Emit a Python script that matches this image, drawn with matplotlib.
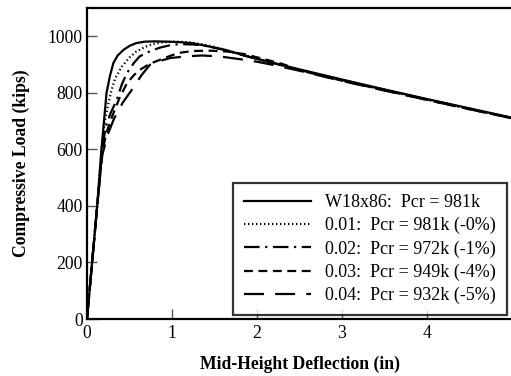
import matplotlib
matplotlib.use("Agg")
import matplotlib.pyplot as plt

plt.rcParams['font.family'] = ['Liberation Serif', 'DejaVu Serif']

x_w = [0, 0.06, 0.12, 0.17, 0.20, 0.23, 0.27, 0.31, 0.36, 0.43, 0.50, 0.58, 0.68, 0.80,
       0.95, 1.10, 1.25, 1.45, 1.65, 1.85, 2.0, 2.5, 3.0, 3.5, 4.0, 4.5, 5.0]
y_w = [0, 200, 400, 600, 700, 800, 860, 905, 932, 952, 966, 976, 981, 982,
       981, 979, 975, 963, 950, 932, 920, 883, 847, 812, 778, 745, 712]

x_01 = [0, 0.06, 0.12, 0.17, 0.21, 0.25, 0.28, 0.33, 0.41, 0.50, 0.58, 0.68, 0.78, 0.90,
        1.05, 1.20, 1.35, 1.50, 1.70, 2.0, 2.5, 3.0, 3.5, 4.0, 4.5, 5.0]
y_01 = [0, 200, 400, 600, 700, 760, 800, 850, 893, 925, 946, 962, 973, 979,
        981, 979, 972, 962, 946, 920, 882, 846, 811, 777, 744, 711]

x_02 = [0, 0.06, 0.12, 0.18, 0.22, 0.28, 0.35, 0.41, 0.47, 0.55, 0.62, 0.74, 0.86, 1.0,
        1.1, 1.25, 1.4, 1.6, 1.8, 2.0, 2.5, 3.0, 3.5, 4.0, 4.5, 5.0]
y_02 = [0, 200, 400, 600, 680, 730, 775, 830, 870, 905, 929, 947, 960, 970,
        972, 971, 966, 953, 936, 920, 881, 845, 810, 776, 743, 711]

x_03 = [0, 0.06, 0.12, 0.18, 0.23, 0.30, 0.38, 0.47, 0.55, 0.62, 0.74, 0.86, 1.0, 1.1,
        1.25, 1.45, 1.65, 1.85, 2.1, 2.3, 2.5, 3.0, 3.5, 4.0, 4.5, 5.0]
y_03 = [0, 200, 400, 590, 660, 720, 780, 834, 862, 881, 903, 917, 933, 942,
        948, 949, 946, 937, 918, 902, 880, 843, 809, 775, 742, 710]

x_04 = [0, 0.06, 0.12, 0.18, 0.24, 0.32, 0.42, 0.54, 0.64, 0.74, 0.86, 0.98, 1.17, 1.35,
        1.55, 1.8, 2.0, 2.2, 2.5, 3.0, 3.5, 4.0, 4.5, 5.0]
y_04 = [0, 200, 400, 580, 650, 710, 765, 816, 862, 899, 913, 923, 929, 932,
        929, 919, 910, 898, 878, 842, 808, 775, 742, 710]

labels = ["W18x86:  Pcr = 981k",
          "0.01:  Pcr = 981k (-0%)",
          "0.02:  Pcr = 972k (-1%)",
          "0.03:  Pcr = 949k (-4%)",
          "0.04:  Pcr = 932k (-5%)"]

fs = 12.7
fig = plt.figure(figsize=(5.11, 3.76), dpi=100)
ax = fig.add_axes([87/511, 1-319/376, 425/511, 311/376])

lw = 1.6
ax.plot(x_w, y_w, color='black', lw=lw, ls='-', label=labels[0])
ax.plot(x_01, y_01, color='black', lw=lw, ls=(0, (0.6, 1.2)), label=labels[1])
ax.plot(x_02, y_02, color='black', lw=lw, ls=(0, (7, 2.5, 1, 2.5)), label=labels[2])
ax.plot(x_03, y_03, color='black', lw=lw, ls=(0, (4, 2.5)), label=labels[3])
ax.plot(x_04, y_04, color='black', lw=lw, ls=(0, (9, 5)), label=labels[4])

ax.set_xlim(0, 5)
ax.set_ylim(0, 1100)
ax.set_xticks([0, 1, 2, 3, 4])
ax.set_yticks([0, 200, 400, 600, 800, 1000])
ax.tick_params(direction='in', length=7, width=1, color='#555555',
               labelsize=fs, pad=3)
ax.tick_params(axis='x', pad=4)
for s in ['left', 'bottom', 'top']:
    ax.spines[s].set_linewidth(1.6)
ax.spines['right'].set_visible(False)

ax.set_xlabel("Mid-Height Deflection (in)", fontsize=fs, fontweight='bold', labelpad=10)
ax.set_ylabel("Compressive Load (kips)", fontsize=fs, fontweight='bold', labelpad=13)

leg = ax.legend(loc='lower right', bbox_to_anchor=((507-87)/425, (319-315)/311),
                fontsize=13, frameon=True, fancybox=False, edgecolor='black',
                handlelength=3.7, handletextpad=0.8, labelspacing=0.33,
                borderpad=0.6, borderaxespad=0)
leg.get_frame().set_linewidth(1.6)

fig.savefig("out.png", dpi=100)
